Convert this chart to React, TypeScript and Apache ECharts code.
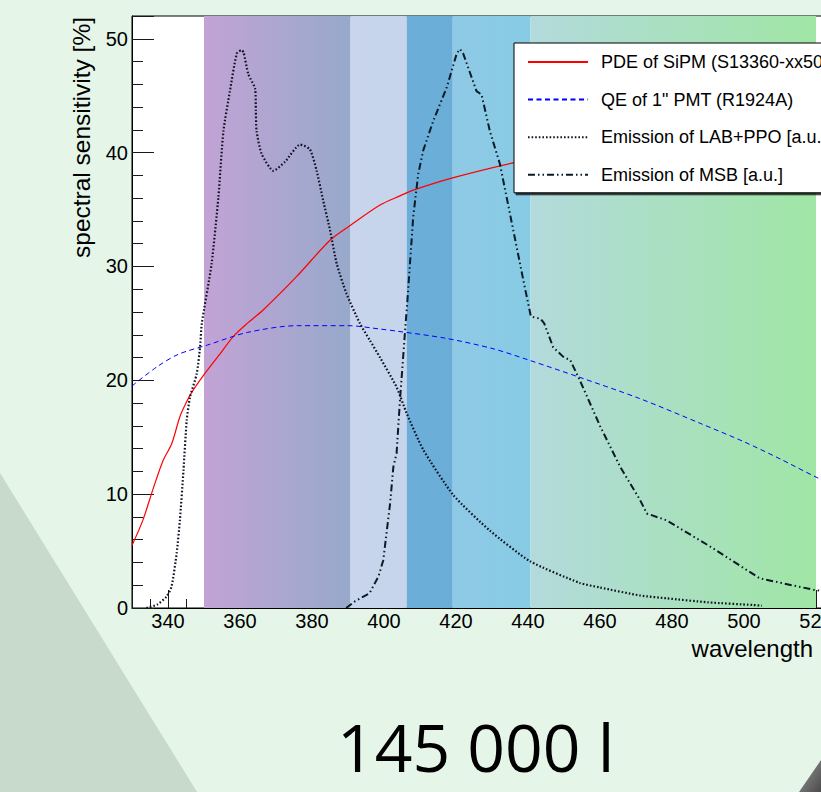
import React, { useEffect, useRef } from "react";
import * as echarts from "echarts";

// ---------- data ----------
const seriesNames = [
  "PDE of SiPM (S13360-xx50)",
  "QE of 1\" PMT (R1924A)",
  "Emission of LAB+PPO [a.u.]",
  "Emission of MSB [a.u.]",
];

const pdeWl = [330, 333, 336, 338.7, 341, 343.3, 345, 346.5, 350, 354.4, 358, 362, 366.5, 375.7, 385, 390.6, 398.9, 404.4, 408.1, 419.3, 435.9, 450, 470, 490, 510, 530, 560];
const pdeVal = [5.5, 7.7, 10.6, 13.0, 14.4, 16.8, 18.0, 18.9, 20.5, 22.3, 23.8, 25.0, 26.2, 29.1, 32.3, 33.6, 35.4, 36.2, 36.7, 37.8, 39.1, 40.0, 40.3, 39.6, 38.2, 36.3, 32.5];

const qeWl = [330, 337, 343, 351, 362, 376, 390, 399, 404, 417, 430, 440, 454, 471, 488, 500, 510, 520, 540, 560];
const qeVal = [19.5, 21.2, 22.3, 23.1, 24.2, 24.8, 24.8, 24.5, 24.3, 23.7, 22.8, 21.8, 20.3, 18.4, 16.2, 14.6, 13.1, 11.5, 8.5, 5.4];

const labWl = [334, 337, 339.6, 341, 342.4, 343.3, 344.3, 345.2, 346.1, 348, 348.9, 349.4, 352.1, 354, 355.4, 357.2, 359.1, 360.4, 361, 362.3, 364.2, 364.4, 364.6, 366, 369.3, 372.5, 376.7, 379.4, 381.3, 383.1, 385, 386.9, 389.6, 393.3, 396.1, 398.9, 403.5, 406.3, 410.9, 419.3, 429.4, 440.6, 454.4, 460, 471.1, 478.5, 490, 502.6, 505];
const labVal = [0, 0.3, 1.0, 1.9, 4.8, 7.7, 12.1, 16.5, 18.5, 20.6, 22.9, 25.0, 30.2, 36.1, 41.9, 45.4, 48.7, 49.0, 48.8, 46.9, 45.6, 43.7, 41.9, 39.9, 38.4, 39.2, 40.7, 40.3, 38.4, 35.8, 33.2, 30.2, 27.6, 25.0, 23.5, 22.0, 19.4, 17.1, 13.9, 9.9, 6.8, 4.1, 2.2, 1.8, 1.1, 0.85, 0.5, 0.26, 0.2];

const msbWl = [389.5, 392, 396, 398.5, 399.8, 401.7, 402.6, 403.5, 404.4, 405.8, 406.5, 407.2, 408.1, 409.5, 410.9, 413.7, 417.4, 420.2, 421.1, 422, 425.7, 427.1, 429.4, 432.2, 435.9, 438.7, 440.8, 443.5, 444.5, 447, 450, 451.7, 454.4, 460, 465.6, 471.1, 473, 478.5, 490.6, 504.4, 519.3, 535, 560];
const msbVal = [0, 0.6, 1.3, 2.8, 4.2, 9.2, 12.4, 13.6, 18.1, 24.1, 27.0, 30.2, 34.3, 38.1, 40.2, 42.8, 45.7, 48.7, 49.1, 48.7, 45.4, 45.1, 41.9, 39.0, 33.2, 28.8, 25.6, 25.4, 25.0, 22.9, 22.0, 21.8, 20.0, 16.0, 12.4, 9.5, 8.3, 7.7, 5.4, 2.6, 1.6, 0.9, 0.4];

// colour bands in the plot (wavelength ranges)
const bandStart = [350, 390.7, 406.3, 419.1, 440.7];
const bandEnd = [390.7, 406.3, 419.1, 440.7, 520];

const volumeLabel = "145 000 l";
const xTitle = "wavelength";
const yTitle = "spectral sensitivity [%]";

// ---------- styles ----------
const BAND_FILL = [
  ["#C2A3D5", "#97A9CB"],
  ["#C8D5EC", "#C6D5EB"],
  ["#6CAED9", "#6AAED8"],
  ["#8FC9E5", "#86CBE4"],
  ["#B3DADC", "#A0E6A5"],
];
const FONT = "Liberation Sans, Arial, sans-serif";
const X_MIN = 330;
const X_MAX = 560;
const PX_PER_NM = 3.6;

const pair = (xs: number[], ys: number[]) => xs.map((x, i) => [x, ys[i]]);

export default function App() {
  const ref = useRef<HTMLDivElement>(null);

  useEffect(() => {
    if (!ref.current) return;
    const chart = echarts.init(ref.current, undefined, { renderer: "svg" });

    const option: any = {
      animation: false,
      backgroundColor: "transparent",
      textStyle: { fontFamily: FONT },
      grid: {
        left: 132,
        top: 16,
        width: (X_MAX - X_MIN) * PX_PER_NM,
        height: 592,
        show: true,
        backgroundColor: "#ffffff",
        borderColor: "#000000",
        borderWidth: 1,
      },
      xAxis: {
        type: "value",
        min: X_MIN,
        max: X_MAX,
        minInterval: 20,
        maxInterval: 20,
        axisLine: { show: true, lineStyle: { color: "#000", width: 1 } },
        axisTick: { show: true, inside: true, length: 18, lineStyle: { color: "#1a1a1a", width: 1 } },
        minorTick: { show: true, splitNumber: 4, length: 9, lineStyle: { color: "#1a1a1a", width: 1 } },
        axisLabel: {
          color: "#000",
          fontSize: 20,
          fontFamily: FONT,
          margin: 3,
          formatter: (v: number) => (v % 20 === 0 ? String(v) : ""),
        },
        splitLine: { show: false },
        minorSplitLine: { show: false },
      },
      yAxis: {
        type: "value",
        min: 0,
        max: 52,
        interval: 10,
        axisLine: { show: true, lineStyle: { color: "#000", width: 1 } },
        axisTick: { show: true, inside: true, length: 22, lineStyle: { color: "#1a1a1a", width: 1 } },
        minorTick: { show: true, splitNumber: 5, length: 11, lineStyle: { color: "#1a1a1a", width: 1 } },
        axisLabel: {
          color: "#000",
          fontSize: 20,
          fontFamily: FONT,
          margin: 4,
          formatter: (v: number) => (v % 10 === 0 ? String(v) : ""),
        },
        splitLine: { show: false },
      },
      legend: {
        orient: "vertical",
        left: 514,
        top: 43,
        data: seriesNames,
        itemWidth: 60,
        itemHeight: 14,
        itemGap: 19.6,
        padding: [10, 40, 9, 13],
        backgroundColor: "#ffffff",
        borderColor: "#000000",
        borderWidth: 1,
        shadowColor: "rgba(0,0,0,0.75)",
        shadowOffsetX: 2,
        shadowOffsetY: 2,
        shadowBlur: 0,
        selectedMode: false,
        itemStyle: { color: "rgba(0,0,0,0)", borderColor: "rgba(0,0,0,0)", borderWidth: 0, opacity: 0 },
        textStyle: { fontSize: 18, color: "#000", fontFamily: FONT, padding: [0, 0, 0, 8] },
      },
      series: [
        {
          name: "bands",
          type: "line",
          data: [],
          z: 1,
          silent: true,
          markArea: {
            silent: true,
            label: { show: false },
            data: bandStart.map((s, i) => [
              {
                xAxis: s,
                itemStyle: {
                  color: new echarts.graphic.LinearGradient(0, 0, 1, 0, [
                    { offset: 0, color: BAND_FILL[i][0] },
                    { offset: 1, color: BAND_FILL[i][1] },
                  ]),
                  opacity: 1,
                },
              },
              { xAxis: bandEnd[i] },
            ]),
          },
        },
        {
          name: seriesNames[0],
          type: "line",
          data: pair(pdeWl, pdeVal),
          symbol: "none",
          smooth: 0.3,
          z: 3,
          lineStyle: { color: "#ff0000", width: 1.2, type: "solid" },
          itemStyle: { color: "#ff0000" },
        },
        {
          name: seriesNames[1],
          type: "line",
          data: pair(qeWl, qeVal),
          symbol: "none",
          smooth: 0.3,
          z: 3,
          lineStyle: { color: "#0000ff", width: 1, type: [5, 3.5] },
          itemStyle: { color: "#0000ff" },
        },
        {
          name: seriesNames[2],
          type: "line",
          data: pair(labWl, labVal),
          symbol: "none",
          smooth: 0.2,
          z: 3,
          lineStyle: { color: "#111122", width: 2.2, type: [1.6, 2] },
          itemStyle: { color: "#111122" },
        },
        {
          name: seriesNames[3],
          type: "line",
          data: pair(msbWl, msbVal),
          symbol: "none",
          smooth: false,
          z: 3,
          lineStyle: { color: "#0a1a26", width: 2, type: [7, 3, 1.5, 3, 1.5, 3] },
          itemStyle: { color: "#0a1a26" },
        },
      ],
      graphic: [
        {
          type: "polygon",
          z: -10,
          silent: true,
          shape: { points: [[0, 473], [197, 792], [0, 792]] },
          style: { fill: "#C8DACC" },
        },
        {
          type: "polygon",
          z: -10,
          silent: true,
          shape: { points: [[821, 760], [821, 792], [799, 792]] },
          style: {
            fill: new echarts.graphic.LinearGradient(0, 0, 1, 1, [
              { offset: 0, color: "#9a9a9a" },
              { offset: 1, color: "#4a4a4a" },
            ]),
          },
        },
        {
          type: "text",
          x: 813,
          y: 648,
          silent: true,
          style: {
            text: xTitle,
            fontSize: 24,
            fontFamily: FONT,
            fill: "#000",
            align: "right",
            textAlign: "right",
            verticalAlign: "middle",
            textVerticalAlign: "middle",
          },
        },
        {
          type: "text",
          x: 81,
          y: 17,
          rotation: Math.PI / 2,
          silent: true,
          style: {
            text: yTitle,
            fontSize: 24.5,
            fontFamily: FONT,
            fill: "#000",
            align: "right",
            textAlign: "right",
            verticalAlign: "middle",
            textVerticalAlign: "middle",
          },
        },
        {
          type: "text",
          x: 337,
          y: 746,
          silent: true,
          style: {
            text: volumeLabel,
            fontSize: 66,
            fontFamily: "Open Sans, sans-serif",
            fill: "#000",
            align: "left",
            textAlign: "left",
            verticalAlign: "middle",
            textVerticalAlign: "middle",
          },
        },
      ],
    };

    chart.setOption(option);
    return () => chart.dispose();
  }, []);

  return (
    <div
      style={{
        position: "fixed",
        left: 0,
        top: 0,
        width: 821,
        height: 792,
        overflow: "hidden",
        background: "#E5F6E9",
      }}
    >
      <div ref={ref} style={{ width: 1000, height: 792 }} />
    </div>
  );
}
